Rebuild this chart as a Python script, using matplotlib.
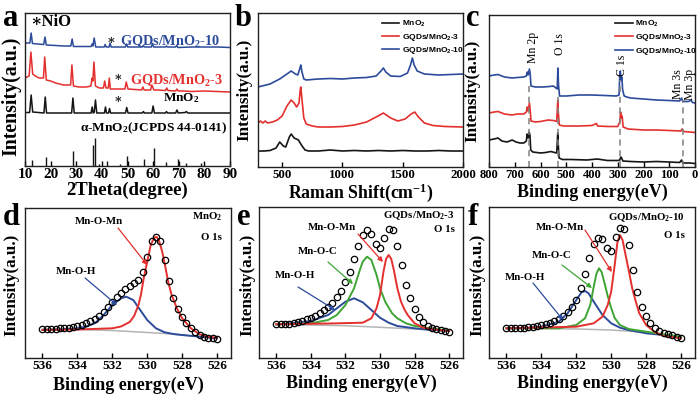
import matplotlib
matplotlib.use('Agg')
import matplotlib.pyplot as plt

W, H = 700, 398
plt.rcParams.update({
    'font.family': ['Liberation Serif', 'DejaVu Serif'],
    'font.weight': 'bold',
    'axes.labelweight': 'bold',
    'mathtext.fontset': 'custom',
    'mathtext.rm': 'Liberation Serif:bold',
    'mathtext.it': 'Liberation Serif:bold:italic',
    'mathtext.bf': 'Liberation Serif:bold',
    'mathtext.sf': 'Liberation Sans:bold',
    'axes.linewidth': 1.0,
})

BLACK = '#151515'
RED = '#e3302e'
BLUE = '#2c4b9b'
GREEN = '#3ea535'
GRAY = '#b4b4b4'

# ---------------- (a) XRD ----------------
xrd_mno2_x = [10, 11.8, 12.4, 13.0, 17.4, 17.9, 18.4, 25, 28.2, 28.7, 29.2, 35.8, 36.2, 36.6, 37.0, 37.5, 38.0,
              41.0, 41.4, 41.8, 42.6, 43.0, 43.4, 49.2, 49.7, 50.2, 55.8, 56.2, 56.6, 59.5, 60.0, 60.5,
              64.8, 65.2, 65.6, 68.8, 69.3, 69.8, 72.5, 73.0, 73.5, 78, 90]
xrd_mno2_y = [53.5, 53.5, 71, 54, 53, 69, 53, 53, 53, 68, 53, 53, 59, 53, 53.5, 66, 53, 53, 59, 53, 53, 57.5, 53,
              53, 58.5, 53, 53, 54.5, 53, 53, 60, 53, 53, 54.5, 53, 53, 56, 53, 53.5, 54.5, 53, 53, 53]
xrd_g3_x = [10, 11.6, 12.3, 13.0, 14.0, 15.5, 17.2, 17.7, 18.3, 20, 22, 25, 27.8, 28.3, 28.9, 31, 34, 35.7, 36.2,
            36.5, 36.9, 37.5, 39, 40.6, 41.1, 41.6, 42.5, 42.9, 43.3, 45, 49.0, 49.5, 50.2, 53, 55.5, 56.0, 56.5,
            59.0, 59.5, 60.3, 62, 64.8, 65.3, 65.8, 68.8, 69.3, 69.8, 72, 75, 80, 85, 90]
xrd_g3_y = [88, 90, 114, 92, 90, 88, 88, 109, 86, 85, 83, 81, 81, 101, 80, 79, 79, 80, 88, 85, 104, 80, 78, 78,
            85, 78, 78, 88, 77, 77, 77, 84, 77, 76.5, 76, 79, 76, 76, 81, 76, 76, 75.5, 78, 75.5, 75, 77, 75, 75,
            74.5, 75, 74.5, 74]
xrd_g10_x = [10, 11.9, 12.4, 12.9, 15, 17.3, 17.8, 18.3, 22, 25, 27.9, 28.4, 28.9, 32, 35.8, 36.2, 36.5, 37.0,
             37.6, 40.9, 41.3, 41.7, 42.8, 43.2, 43.6, 49.2, 49.6, 50.1, 55.8, 56.2, 56.6, 59.3, 59.7, 60.2,
             64.8, 65.2, 65.6, 68.8, 69.2, 69.7, 75, 80, 85, 90]
xrd_g10_y = [123, 123, 133, 122.5, 122, 121.5, 129, 121, 120.5, 120, 120, 127, 119.5, 119.5, 119.5, 122, 120,
             128, 119, 119, 121.5, 119, 119, 123, 119, 119, 122, 119, 119, 120.5, 119, 119, 122.5, 119, 119,
             120, 119, 119, 120.5, 118.5, 119, 119, 119, 118.5]
jcpds_2theta = [12.8, 18.1, 28.8, 36.7, 37.5, 39.0, 41.9, 47.0, 49.9, 56.4, 60.3, 65.1, 69.7, 72.7, 78.6]
jcpds_height = [6, 9, 15, 21, 28, 2, 5, 2, 10, 7, 18, 4, 7, 3, 3]
xrd_ticks = [10, 20, 30, 40, 50, 60, 70, 80, 90]

# ---------------- (b) Raman ----------------
raman_mno2_x = [300, 350, 400, 450, 480, 510, 530, 560, 575, 600, 635, 660, 690, 720, 800, 900, 1000, 1100,
                1200, 1300, 1400, 1500, 1600, 1700, 1800, 1900, 2000]
raman_mno2_y = [16, 16, 16.5, 19, 25, 21, 20, 30, 33, 29, 27, 22, 17, 16, 16, 17, 16, 16.5, 16, 16.5, 16, 16.5,
                16, 16, 16.5, 16, 16]
raman_g3_x = [300, 320, 340, 360, 380, 420, 460, 500, 540, 575, 600, 620, 640, 650, 655, 665, 680, 700, 750, 800,
              900, 1000, 1100, 1200, 1280, 1340, 1400, 1460, 1520, 1570, 1600, 1630, 1680, 1750, 1850, 2000]
raman_g3_y = [44, 46, 44, 46, 44, 45, 47, 51, 61, 67, 64, 60, 64, 77, 80, 67, 49, 43, 41, 40, 40, 40.5, 42, 45,
              50, 54, 49, 46, 48, 53, 55, 50, 44, 41.5, 40.5, 40]
raman_g10_x = [300, 400, 480, 540, 575, 610, 630, 648, 655, 665, 680, 700, 800, 900, 1000, 1100, 1200, 1280,
               1320, 1340, 1360, 1400, 1480, 1540, 1565, 1580, 1595, 1620, 1680, 1800, 1900, 2000]
raman_g10_y = [80, 83, 88, 93, 96, 93, 92, 99, 102, 95, 88, 87, 88, 88.5, 88, 89, 89.5, 91, 96, 99, 95, 91,
               90.5, 94, 102, 109, 102, 96, 93, 92, 92.5, 93]
raman_ticks = [500, 1000, 1500, 2000]

# ---------------- (c) XPS survey ----------------
xps_mno2_x = [800, 780, 765, 750, 730, 710, 695, 680, 665, 655, 652, 648, 644, 641, 638, 630, 600, 580, 560, 545,
              537, 533, 531, 528, 515, 480, 420, 380, 340, 300, 292, 288, 285, 280, 250, 200, 150, 100, 60, 52,
              48, 20, 0]
xps_mno2_y = [27, 28, 29, 26, 25, 27, 25, 24, 24, 26, 33, 29, 35, 32, 17, 15, 14, 14.5, 15.5, 14.5, 14, 34, 22,
              9, 7.5, 7.5, 7, 8, 6.5, 6.5, 7, 10, 9, 6, 5.5, 5, 5.5, 5, 4.5, 7, 4, 4, 3.5]
xps_g3_x = [800, 780, 765, 740, 710, 690, 665, 655, 651, 648, 643, 640, 637, 620, 600, 570, 550, 537, 533, 531,
            527, 510, 450, 400, 383, 378, 340, 300, 292, 289, 286, 283, 279, 260, 200, 150, 100, 55, 50, 45, 20, 0]
xps_g3_y = [54, 55, 55.5, 53, 52, 53, 53, 55, 60, 56, 64, 57, 46, 45, 45.5, 47, 46.5, 45.5, 67, 55, 42, 41, 41,
            41.5, 43.5, 41, 40.5, 40.5, 45, 55, 49, 51, 40, 38, 37, 37, 36.5, 36, 38, 35.5, 35, 34.5]
xps_g10_x = [800, 780, 765, 740, 710, 690, 665, 655, 651, 648, 643, 640, 637, 620, 590, 565, 550, 540, 535, 532.5,
             530, 526, 500, 450, 400, 350, 305, 295, 292, 290, 287, 284, 281, 275, 265, 250, 200, 150, 100, 60,
             52, 48, 25, 15, 10, 0]
xps_g10_y = [91, 92, 92.5, 90, 89, 89.5, 90, 91, 95, 92, 98, 93, 81, 80, 80, 80.5, 81, 79, 78, 99, 82, 71, 71,
             72, 72, 71.5, 71, 72, 93, 96, 87, 90, 77, 71, 70, 69, 68, 67, 66.5, 66, 69, 65.5, 65.5, 67, 64.5, 64]
survey_marker_ev = [646, 533, 290, 48]
survey_marker_top = [83, 71, 87, 67]
survey_ticks = [800, 700, 600, 500, 400, 300, 200, 100, 0]

# ---------------- (d,e,f) O 1s ----------------
o1s_energy = [536.0, 535.75, 535.5, 535.25, 535.0, 534.75, 534.5, 534.25, 534.0, 533.75, 533.5, 533.25, 533.0,
              532.75, 532.5, 532.25, 532.0, 531.75, 531.5, 531.25, 531.0, 530.75, 530.5, 530.25, 530.0, 529.75,
              529.5, 529.25, 529.0, 528.75, 528.5, 528.25, 528.0, 527.75, 527.5, 527.25, 527.0, 526.75, 526.5,
              526.25, 526.0]
o1s_mno2 = [28.7, 28.7, 28.7, 29.2, 29.7, 30.0, 30.3, 31.0, 32.0, 33.2, 34.7, 36.8, 39.0, 42.0, 45.7, 51.0, 56.3,
            61.0, 65.5, 69.0, 72.5, 75.5, 78.0, 86.0, 101.0, 117.0, 121.3, 117.0, 98.0, 77.0, 60.0, 49.0, 41.0,
            35.0, 30.0, 26.5, 23.0, 21.5, 20.3, 19.6, 19.0]
o1s_g3 = [33.7, 33.8, 34.0, 34.3, 34.7, 36.0, 37.5, 39.0, 40.3, 42.3, 44.7, 48.0, 51.3, 55.5, 61.0, 67.0, 76.0,
          86.0, 99.0, 112.0, 123.0, 128.0, 124.0, 114.0, 110.0, 120.0, 129.5, 128.0, 112.0, 93.0, 73.0, 60.0,
          49.0, 41.0, 36.0, 32.0, 30.0, 29.0, 28.0, 27.0, 26.3]
o1s_g10 = [29.7, 29.8, 29.9, 30.0, 30.2, 30.7, 31.3, 32.3, 33.5, 34.5, 35.5, 37.0, 39.0, 42.5, 46.0, 51.0, 58.0,
           70.0, 84.0, 100.0, 114.0, 120.0, 119.0, 110.0, 107.0, 121.0, 130.3, 129.0, 113.0, 88.0, 66.0, 51.0,
           42.0, 35.0, 30.5, 27.5, 25.5, 24.0, 23.0, 21.5, 20.3]
o1s_ticks = [536, 534, 532, 530, 528, 526]

# fitted components
d_mnomn_x = [536, 534, 532, 531.5, 531, 530.75, 530.5, 530.35, 530.2, 530.0, 529.8, 529.6, 529.45, 529.3, 529.15,
             529.0, 528.8, 528.6, 528.3, 528.0, 527.5, 527.0, 526.5, 526.0]
d_mnomn_y = [28, 28.5, 29.7, 31.5, 36, 42, 53, 64, 79.7, 96, 113, 120.5, 121, 116, 107, 94.7, 76.3, 63, 49.7,
             39.7, 29.7, 23.7, 21.3, 20.3]
d_mnoh_x = [536, 535, 534, 533.5, 533, 532.5, 532, 531.5, 531.2, 530.8, 530.4, 530, 529.5, 529, 528.5, 528, 527, 526]
d_mnoh_y = [28, 28.5, 29.7, 31.5, 34.7, 43, 53, 59.7, 61.3, 58, 48, 38, 29.7, 25.7, 24, 23, 21.3, 19.7]
d_bg_x = [536, 534, 532, 531, 530, 529, 528, 527, 526]
d_bg_y = [29, 28.5, 27.5, 26.5, 25.5, 24.5, 23, 21.5, 20]

e_mnomn_x = [536, 533, 531, 530.5, 530.2, 530.0, 529.8, 529.65, 529.5, 529.35, 529.2, 529.0, 528.8, 528.6, 528.4,
             528.0, 527.5, 527.0, 526.0]
e_mnomn_y = [33.7, 34.5, 35.3, 39.7, 49.7, 63, 86.3, 99, 103, 99, 88, 70, 57, 49, 43, 34.7, 30.3, 28.7, 27]
e_mnoc_x = [536, 534, 533, 532.5, 532, 531.5, 531.2, 531.0, 530.75, 530.5, 530.2, 530.0, 529.7, 529.3, 529.0,
            528.5, 528.0, 527.0, 526.0]
e_mnoc_y = [33.7, 34.7, 38, 43, 53, 69.7, 86.3, 96.3, 101.3, 98, 83, 69.7, 56.3, 44.7, 39.7, 34.7, 32, 29.7, 27.3]
e_mnoh_x = [536, 535, 534, 533, 532.5, 532, 531.5, 531, 530.5, 530, 529.5, 529, 528, 527, 526]
e_mnoh_y = [33.7, 35, 37, 43, 49.7, 56.3, 59.7, 55.7, 48, 40.3, 35.3, 32, 29.7, 28, 27]
e_bg_x = [536, 534, 532, 530, 528, 526]
e_bg_y = [33.7, 33, 32.3, 30.7, 29, 27]

f_mnomn_x = [536, 532, 531, 530.5, 530.2, 530.0, 529.8, 529.65, 529.5, 529.35, 529.2, 529.0, 528.8, 528.6, 528.4,
             528.0, 527.5, 527.0, 526.0]
f_mnomn_y = [29.7, 31.3, 34.7, 41.3, 53, 66.3, 93, 115, 123, 118, 105, 88, 70, 57, 45, 33, 26, 22, 19.7]
f_mnoc_x = [536, 533, 532, 531.5, 531.2, 531.0, 530.85, 530.7, 530.55, 530.4, 530.2, 530.0, 529.8, 529.5, 529.0,
            528.0, 527.0, 526.0]
f_mnoc_y = [29.7, 29.7, 33, 39.7, 53, 71.3, 84, 89.7, 86, 76, 62, 50, 40, 33, 29, 26.3, 23.7, 21.3]
f_mnoh_x = [536, 535, 534, 533, 532.5, 532, 531.7, 531.5, 531.3, 531, 530.5, 530, 529.5, 529, 528, 527, 526]
f_mnoh_y = [29.7, 30, 31.3, 36.3, 44.7, 58, 65.7, 67, 64.7, 56.3, 43, 34.7, 30.3, 28, 24.7, 23, 21.3]
f_bg_x = [536, 534, 532, 530, 528, 527, 526]
f_bg_y = [29.7, 29.5, 29, 28, 25.7, 23.5, 21.3]

fig = plt.figure(figsize=(7, 3.98), dpi=100)


def add_ax(l, t, r, b):
    return fig.add_axes([l / W, 1 - b / H, (r - l) / W, (b - t) / H])


def style(ax, ticks, labelsize, xlabel, xl_y, yl_x, yl_y=0.5, xl_size=13, yl_size=12.3):
    ax.set_xticks(ticks)
    ax.set_yticks([])
    ax.tick_params(axis='x', direction='in', length=3.5, width=1, pad=1.5, labelsize=labelsize, top=False)
    for lab in ax.get_xticklabels():
        lab.set_fontweight('bold')
    for s in ax.spines.values():
        s.set_color('#202020')
        s.set_linewidth(1.0)
    ax.set_xlabel(xlabel, fontsize=xl_size, fontweight='bold', va='center')
    ax.xaxis.set_label_coords(0.5, xl_y)
    ax.set_ylabel('Intensity(a.u.)', fontsize=yl_size, fontweight='bold', va='center')
    ax.yaxis.set_label_coords(yl_x, yl_y)


# ---- a
axa = add_ax(25, 13, 230, 166)
axa.plot(xrd_mno2_x, xrd_mno2_y, color=BLACK, lw=1.1)
axa.plot(xrd_g3_x, xrd_g3_y, color=RED, lw=1.1)
axa.plot(xrd_g10_x, xrd_g10_y, color=BLUE, lw=1.1)
axa.vlines(jcpds_2theta, 0, jcpds_height, color=BLACK, lw=1.0)
axa.set_xlim(10, 90)
axa.set_ylim(0, 153)
style(axa, xrd_ticks, 11, '2Theta(degree)', -0.16, -0.068, yl_y=0.455, xl_size=13.5, yl_size=14.3)
star_fam = ['Liberation Serif', 'DejaVu Serif']
axa.text(12.2, 144, '\u2217NiO', fontsize=12, family=star_fam, ha='left', va='center')
axa.text(43.6, 125, '\u2217', fontsize=9, family=['DejaVu Serif'], color=BLACK, ha='center', va='center')
axa.text(47.1, 124, 'GQDs/MnO$_2$-10', fontsize=10.3, color=BLUE, ha='left', va='center')
axa.text(46.3, 88, '\u2217', fontsize=9, family=['DejaVu Serif'], color=BLACK, ha='center', va='center')
axa.text(51.0, 85, 'GQDs/MnO$_2$-3', fontsize=10.3, color=RED, ha='left', va='center')
axa.text(46.3, 66, '\u2217', fontsize=9, family=['DejaVu Serif'], color=BLACK, ha='center', va='center')
axa.text(63.9, 68, 'MnO$_2$', fontsize=9.5, ha='left', va='center')
axa.text(60.3, 38, '\u03b1-MnO$_2$(JCPDS 44-0141)', fontsize=9.6, ha='center', va='center')

leg_prop = {'family': 'Liberation Sans', 'weight': 'bold', 'size': 6.0}

# ---- b
axb = add_ax(258, 13, 463, 167)
axb.plot(raman_mno2_x, raman_mno2_y, color=BLACK, lw=1.2, label='MnO$_\\mathsf{2}$')
axb.plot(raman_g3_x, raman_g3_y, color=RED, lw=1.2, label='GQDs/MnO$_\\mathsf{2}$-3')
axb.plot(raman_g10_x, raman_g10_y, color=BLUE, lw=1.2, label='GQDs/MnO$_\\mathsf{2}$-10')
axb.set_xlim(300, 2000)
axb.set_ylim(0, 154)
style(axb, raman_ticks, 9.3, 'Raman Shift(cm$^{-1}$)', -0.168, -0.068, xl_size=12.8)
axb.legend(loc='upper left', bbox_to_anchor=(0.605, 0.962), frameon=False, prop=leg_prop,
           handlelength=2.0, handletextpad=0.35, labelspacing=0.3, borderpad=0, borderaxespad=0)

# ---- c
axc = add_ax(489, 15, 695, 167)
axc.plot(xps_mno2_x, xps_mno2_y, color=BLACK, lw=1.2, label='MnO$_\\mathsf{2}$')
axc.plot(xps_g3_x, xps_g3_y, color=RED, lw=1.2, label='GQDs/MnO$_\\mathsf{2}$-3')
axc.plot(xps_g10_x, xps_g10_y, color=BLUE, lw=1.2, label='GQDs/MnO$_\\mathsf{2}$-10')
axc.vlines(survey_marker_ev, 0, survey_marker_top, colors='#808080', linestyles=(0, (4, 3)), lw=1.1)
axc.set_xlim(800, 0)
axc.set_ylim(0, 152)
style(axc, survey_ticks, 9, 'Binding energy(eV)', -0.164, -0.078)
axc.legend(loc='upper left', bbox_to_anchor=(0.612, 0.975), frameon=False, prop=leg_prop,
           handlelength=2.1, handletextpad=0.3, labelspacing=0.35, borderpad=0, borderaxespad=0)
lab_kw = dict(rotation=90, ha='center', va='center', fontsize=8.5, fontweight='normal')
axc.text(629, 120, 'Mn 2p', **lab_kw)
axc.text(524, 123, 'O 1s', **lab_kw)
axc.text(283, 102, 'C 1s', **lab_kw)
axc.text(66, 83, 'Mn 3s', **lab_kw)
axc.text(19, 83, 'Mn 3p', **lab_kw)


# ---- d, e, f
def o1s_panel(box, data, comps, bg, texts, arrows, ymax):
    ax = add_ax(*box)
    ax.plot(bg[0], bg[1], color=GRAY, lw=1.1)
    for cx, cy, col in comps:
        ax.plot(cx, cy, color=col, lw=1.4)
    ax.plot(o1s_energy, data, ls='none', marker='o', ms=4.6, mfc='none', mec='black', mew=0.9)
    ax.set_xlim(537.0, 525.2)
    ax.set_ylim(0, ymax)
    for (x, y, s, ha) in texts:
        ax.text(x, y, s, fontsize=7.8, ha=ha, va='center')
    for (x0, y0, x1, y1, col) in arrows:
        ax.annotate('', xy=(x1, y1), xytext=(x0, y0),
                    arrowprops=dict(arrowstyle='-|>', color=col, lw=0.9, mutation_scale=7,
                                    shrinkA=0, shrinkB=0))
    return ax


axd = o1s_panel((25, 208, 231, 358), o1s_mno2,
                [(d_mnoh_x, d_mnoh_y, BLUE), (d_mnomn_x, d_mnomn_y, RED)], (d_bg_x, d_bg_y),
                [(525.72, 141, 'MnO$_2$', 'right'), (525.72, 121, 'O 1s', 'right'),
                 (532.76, 136, 'Mn-O-Mn', 'center'), (534.08, 86, 'Mn-O-H', 'center')],
                [(531.67, 130, 530.0, 93, RED), (533.56, 80, 531.73, 53, BLUE)], 150)
style(axd, o1s_ticks, 9.5, 'Binding energy(eV)', -0.18, -0.068, yl_y=0.485)

axe = o1s_panel((259, 207, 463, 358), o1s_g3,
                [(e_mnoh_x, e_mnoh_y, BLUE), (e_mnoc_x, e_mnoc_y, GREEN), (e_mnomn_x, e_mnomn_y, RED)],
                (e_bg_x, e_bg_y),
                [(525.66, 142, 'GQDs/MnO$_2$-3', 'right'), (525.66, 128, 'O 1s', 'right'),
                 (532.78, 131, 'Mn-O-Mn', 'center'), (533.59, 106, 'Mn-O-C', 'center'),
                 (534.92, 83, 'Mn-O-H', 'center')],
                [(531.27, 124, 529.83, 96, RED), (533.01, 96, 531.56, 74, GREEN),
                 (534.74, 71, 532.60, 48, BLUE)], 151)
style(axe, o1s_ticks, 9.5, 'Binding energy(eV)', -0.166, -0.059, yl_y=0.485)

axf = o1s_panel((489, 207, 695, 358), o1s_g10,
                [(f_mnoh_x, f_mnoh_y, BLUE), (f_mnoc_x, f_mnoc_y, GREEN), (f_mnomn_x, f_mnomn_y, RED)],
                (f_bg_x, f_bg_y),
                [(525.77, 140, 'GQDs/MnO$_2$-10', 'right'), (525.77, 122, 'O 1s', 'right'),
                 (532.93, 130, 'Mn-O-Mn', 'center'), (533.39, 103, 'Mn-O-C', 'center'),
                 (534.94, 81, 'Mn-O-H', 'center')],
                [(531.50, 128, 529.96, 86, RED), (532.82, 93, 531.10, 70, GREEN),
                 (534.48, 75, 532.76, 38, BLUE)], 151)
style(axf, o1s_ticks, 9.5, 'Binding energy(eV)', -0.166, -0.058, yl_y=0.485)

# panel letters
for (lx, ly, s) in [(3, 26, 'a'), (235, 26, 'b'), (466, 26, 'c'), (3, 225, 'd'), (237, 225, 'e'), (468, 225, 'f')]:
    fig.text(lx / W, 1 - ly / H, s, fontsize=22, fontweight='bold', ha='left', va='baseline')

fig.savefig('out.png', dpi=100)
